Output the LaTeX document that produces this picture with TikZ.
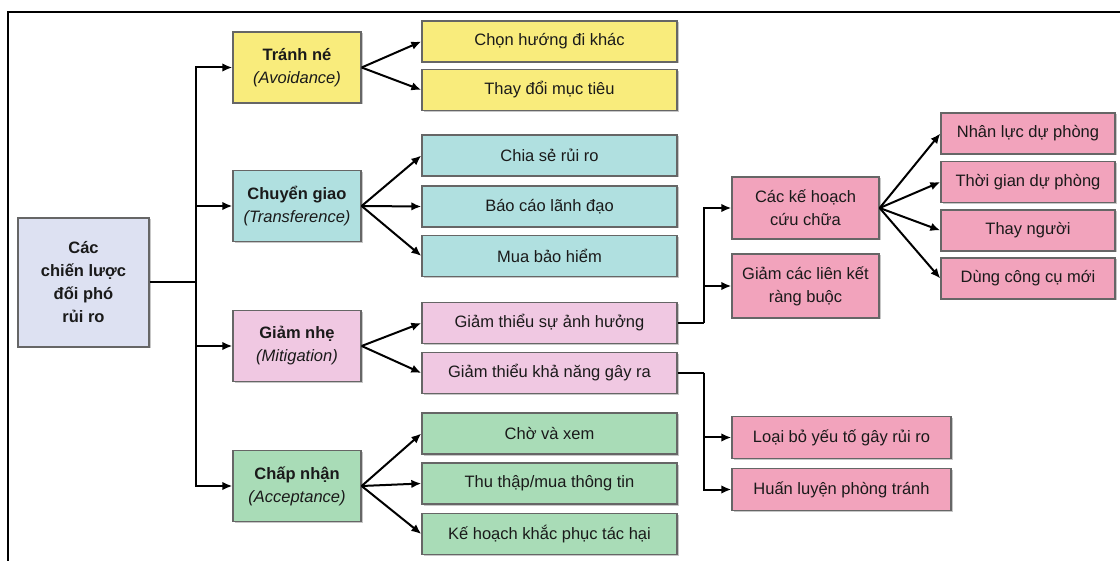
\documentclass[tikz,border=0pt]{standalone}
\usepackage{fontspec}
\setmainfont{Liberation Sans}
\usetikzlibrary{arrows.meta,shadows,calc}
\definecolor{cyel}{HTML}{F9EC7C}
\definecolor{ccyan}{HTML}{B0E0E0}
\definecolor{cmit}{HTML}{F0C8E2}
\definecolor{cgreen}{HTML}{A9DCB7}
\definecolor{cpink}{HTML}{F2A3BC}
\definecolor{croot}{HTML}{DDE1F2}
\definecolor{cborder}{HTML}{666666}
\definecolor{ctext}{HTML}{1A1A1A}
\tikzset{
  bx/.style={draw=cborder, line width=1.3pt, inner sep=0pt, align=center, text=ctext,
    font=\fontsize{16.5}{23}\selectfont,
    drop shadow={shadow xshift=1.5pt, shadow yshift=-1.5pt, fill=black, opacity=0.22}},
  rootbox/.style={bx, fill=croot, minimum width=131pt, minimum height=129pt, font=\fontsize{16.5}{23}\selectfont\bfseries},
  catbox/.style={bx, minimum width=128pt, minimum height=71pt},
  leafbox/.style={bx, minimum width=255pt, minimum height=41pt},
  thirdbox/.style={bx, fill=cpink, minimum width=147pt},
  fourbox/.style={bx, fill=cpink, minimum width=174pt, minimum height=41pt},
  elbox/.style={bx, fill=cpink, minimum width=219pt, minimum height=42pt},
  conn/.style={line width=2pt, black},
  arr/.style={conn, -{Latex[length=10pt,width=8.5pt]}},
}
\begin{document}
\begin{tikzpicture}[x=1pt,y=-1pt]
\useasboundingbox (0,0) rectangle (1120,561);
\draw[line width=2.2pt] (8,561) -- (8,12) -- (1120,12);

\node[rootbox] (root) at (83.5,282.5) {Các\\chiến lược\\đối phó\\rủi ro};

\node[catbox, fill=cyel] (avoid) at (297,67.5) {\textbf{Tránh né}\\\textit{(Avoidance)}};
\node[catbox, fill=ccyan] (trans) at (297,206) {\textbf{Chuyển giao}\\\textit{(Transference)}};
\node[catbox, fill=cmit] (mitig) at (297,346) {\textbf{Giảm nhẹ}\\\textit{(Mitigation)}};
\node[catbox, fill=cgreen] (accept) at (297,486) {\textbf{Chấp nhận}\\\textit{(Acceptance)}};

\node[leafbox, fill=cyel] (l1) at (549.5,41.5) {Chọn hướng đi khác};
\node[leafbox, fill=cyel] (l2) at (549.5,90) {Thay đổi mục tiêu};
\node[leafbox, fill=ccyan] (l3) at (549.5,155.5) {Chia sẻ rủi ro};
\node[leafbox, fill=ccyan] (l4) at (549.5,206.5) {Báo cáo lãnh đạo};
\node[leafbox, fill=ccyan] (l5) at (549.5,256) {Mua bảo hiểm};
\node[leafbox, fill=cmit] (m1) at (549.5,323) {Giảm thiểu sự ảnh hưởng};
\node[leafbox, fill=cmit] (m2) at (549.5,373) {Giảm thiểu khả năng gây ra};
\node[leafbox, fill=cgreen] (a1) at (549.5,433.5) {Chờ và xem};
\node[leafbox, fill=cgreen] (a2) at (549.5,483.5) {Thu thập/mua thông tin};
\node[leafbox, fill=cgreen] (a3) at (549.5,534) {Kế hoạch khắc phục tác hại};

\node[thirdbox, minimum height=62pt] (plan) at (805.5,208) {Các kế hoạch\\cứu chữa};
\node[thirdbox, minimum height=64pt] (link) at (805.5,286) {Giảm các liên kết\\ràng buộc};

\node[fourbox] (f1) at (1028,133.5) {Nhân lực dự phòng};
\node[fourbox] (f2) at (1028,182) {Thời gian dự phòng};
\node[fourbox] (f3) at (1028,230.5) {Thay người};
\node[fourbox] (f4) at (1028,278.5) {Dùng công cụ mới};

\node[elbox] (elim) at (841.5,437.5) {Loại bỏ yếu tố gây rủi ro};
\node[elbox] (train) at (841.5,489.5) {Huấn luyện phòng tránh};

% root trunk
\coordinate (j) at ($(root.east)+(46,0)$);
\draw[conn] (root.east) -- (j);
\foreach \c in {avoid,trans,mitig,accept} \draw[arr] (j) |- (\c.west);

% category fans
\foreach \t in {l1,l2} \draw[arr] (avoid.east) -- (\t.west);
\foreach \t in {l3,l4,l5} \draw[arr] (trans.east) -- (\t.west);
\foreach \t in {m1,m2} \draw[arr] (mitig.east) -- (\t.west);
\foreach \t in {a1,a2,a3} \draw[arr] (accept.east) -- (\t.west);

% mitigation elbows
\coordinate (k1) at ($(m1.east)+(26,0)$);
\draw[conn] (m1.east) -- (k1);
\draw[arr] (k1) |- (plan.west);
\draw[arr] (k1) |- (link.west);

\coordinate (k2) at ($(m2.east)+(26,0)$);
\draw[conn] (m2.east) -- (k2);
\draw[arr] (k2) |- (elim.west);
\draw[arr] (k2) |- (train.west);

\foreach \t in {f1,f2,f3,f4} \draw[arr] (plan.east) -- (\t.west);
\end{tikzpicture}
\end{document}
